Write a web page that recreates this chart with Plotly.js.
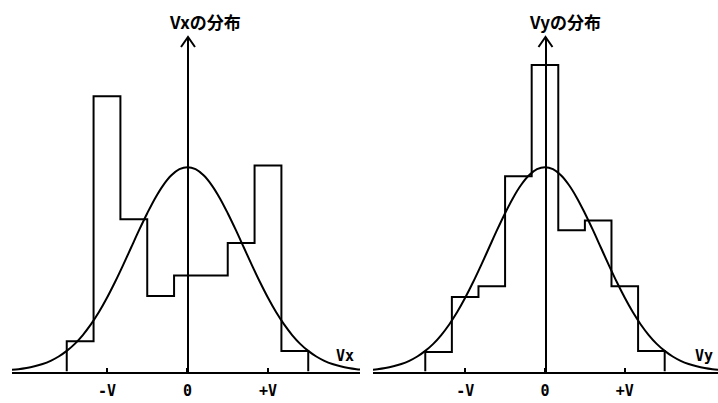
<!DOCTYPE html>
<html>
<head>
<meta charset="utf-8">
<script src="https://cdn.plot.ly/plotly-3.0.1.min.js"></script>
<style>html,body{margin:0;padding:0;background:#fff;}#chart{width:718px;height:403px;}</style>
</head>
<body>
<div id="chart"></div>
<script>
// Bin edges of the histograms (in units of V)
const binEdges = [-1.5, -1.1667, -0.8333, -0.5, -0.1667, 0.1667, 0.5, 0.8333, 1.1667, 1.5];
// Relative frequency (%) per bin
const vxFreq = [2.8, 25.5, 14.1, 7.0, 8.9, 8.9, 11.9, 19.1, 1.9];
const vyFreq = [1.8, 6.9, 7.9, 18.1, 28.4, 13.1, 14.0, 7.9, 1.9];
// Smooth reference curve drawn over both histograms
const curveU = [-2.2,-2.1,-2.0,-1.9,-1.8,-1.7,-1.6,-1.5,-1.4,-1.3,-1.2,-1.1,-1.0,-0.9,-0.8,-0.7,-0.6,-0.5,-0.4,-0.3,-0.2,-0.1,0,
  0.1,0.2,0.3,0.4,0.5,0.6,0.7,0.8,0.9,1.0,1.1,1.2,1.3,1.4,1.5,1.6,1.7,1.8,1.9,2.0,2.1,2.2];
const curveVal = [0.14,0.21,0.32,0.48,0.69,0.99,1.39,1.91,2.56,3.38,4.36,5.51,6.83,8.29,9.86,11.49,13.12,14.67,16.09,17.28,18.18,18.75,18.94,
  18.75,18.18,17.28,16.09,14.67,13.12,11.49,9.86,8.29,6.83,5.51,4.36,3.38,2.56,1.91,1.39,0.99,0.69,0.48,0.32,0.21,0.14];
// Tick labels and titles
const tickVals = [-1, 0, 1];
const tickText = ['-V', '0', '+V'];
const titles = ['Vxの分布', 'Vyの分布'];
const axisNames = ['Vx', 'Vy'];

function stepXY(edges, vals) {
  const x = [edges[0]], y = [0];
  for (let i = 0; i < vals.length; i++) { x.push(edges[i]); y.push(vals[i]); }
  x.push(edges[edges.length - 1]); y.push(vals[vals.length - 1]);
  x.push(edges[edges.length - 1]); y.push(0);
  return {x, y};
}

const W = 718, H = 403;
const px = v => v / W, py = v => 1 - v / H;
const baseY = 371.5, topY = 37;

const hx = stepXY(binEdges, vxFreq), hy = stepXY(binEdges, vyFreq);
const lineStyle = {color: '#000', width: 2};

const traces = [
  {x: hx.x, y: hx.y, mode: 'lines', line: Object.assign({shape: 'hv'}, lineStyle), xaxis: 'x', yaxis: 'y', hoverinfo: 'skip'},
  {x: curveU, y: curveVal, mode: 'lines', line: Object.assign({shape: 'spline'}, lineStyle), xaxis: 'x', yaxis: 'y', hoverinfo: 'skip'},
  {x: hy.x, y: hy.y, mode: 'lines', line: Object.assign({shape: 'hv'}, lineStyle), xaxis: 'x2', yaxis: 'y2', hoverinfo: 'skip'},
  {x: curveU, y: curveVal, mode: 'lines', line: Object.assign({shape: 'spline'}, lineStyle), xaxis: 'x2', yaxis: 'y2', hoverinfo: 'skip'}
];

const tickFont = {family: 'DejaVu Sans Mono', size: 15, color: '#000', weight: 'bold'};
function xax(domain, range, anchor) {
  return {domain, range, anchor, showline: true, linecolor: '#000', linewidth: 2.5, mirror: false,
    ticks: 'inside', ticklen: 4, tickwidth: 2, tickcolor: '#000',
    tickvals: tickVals, ticktext: tickText, tickfont: tickFont, ticklabelstandoff: 4,
    showgrid: false, zeroline: false, fixedrange: true};
}
function yax(pos) {
  return {domain: [1 - baseY / H, 1 - topY / H], range: [0, 31.0], anchor: 'free', position: pos,
    showline: true, linecolor: '#000', linewidth: 2, showticklabels: false, ticks: '',
    showgrid: false, zeroline: false, fixedrange: true};
}

const zeroL = 188, zeroR = 545.5;
function chevron(xc) {
  return {type: 'path', xref: 'paper', yref: 'paper',
    path: `M ${px(xc - 7)},${py(topY + 10)} L ${px(xc)},${py(topY)} L ${px(xc + 7)},${py(topY + 10)}`,
    line: {color: '#000', width: 2}};
}

const titleFont = {family: 'Noto Sans CJK JP', size: 17, color: '#000', weight: 'bold'};
const nameFont = {family: 'DejaVu Sans Mono', size: 15, color: '#000', weight: 'bold'};

const layout = {
  width: W, height: H,
  margin: {l: 0, r: 0, t: 0, b: 0, pad: 0},
  paper_bgcolor: '#fff', plot_bgcolor: 'rgba(0,0,0,0)',
  showlegend: false,
  xaxis: xax([px(12), px(360)], [-2.180, 2.143], 'y'),
  yaxis: yax(px(zeroL)),
  xaxis2: xax([px(373), 1], [-2.155, 2.168], 'y2'),
  yaxis2: yax(px(zeroR)),
  shapes: [chevron(zeroL), chevron(zeroR)],
  annotations: [
    {text: titles[0], xref: 'paper', yref: 'paper', x: px(205), y: py(21.5), xanchor: 'center', yanchor: 'middle', showarrow: false, font: titleFont},
    {text: titles[1], xref: 'paper', yref: 'paper', x: px(565), y: py(21.5), xanchor: 'center', yanchor: 'middle', showarrow: false, font: titleFont},
    {text: axisNames[0], xref: 'paper', yref: 'paper', x: px(345), y: py(356), xanchor: 'center', yanchor: 'middle', showarrow: false, font: nameFont},
    {text: axisNames[1], xref: 'paper', yref: 'paper', x: px(704), y: py(356), xanchor: 'center', yanchor: 'middle', showarrow: false, font: nameFont}
  ]
};

Plotly.newPlot('chart', traces, layout, {staticPlot: true, displayModeBar: false});
</script>
</body>
</html>
